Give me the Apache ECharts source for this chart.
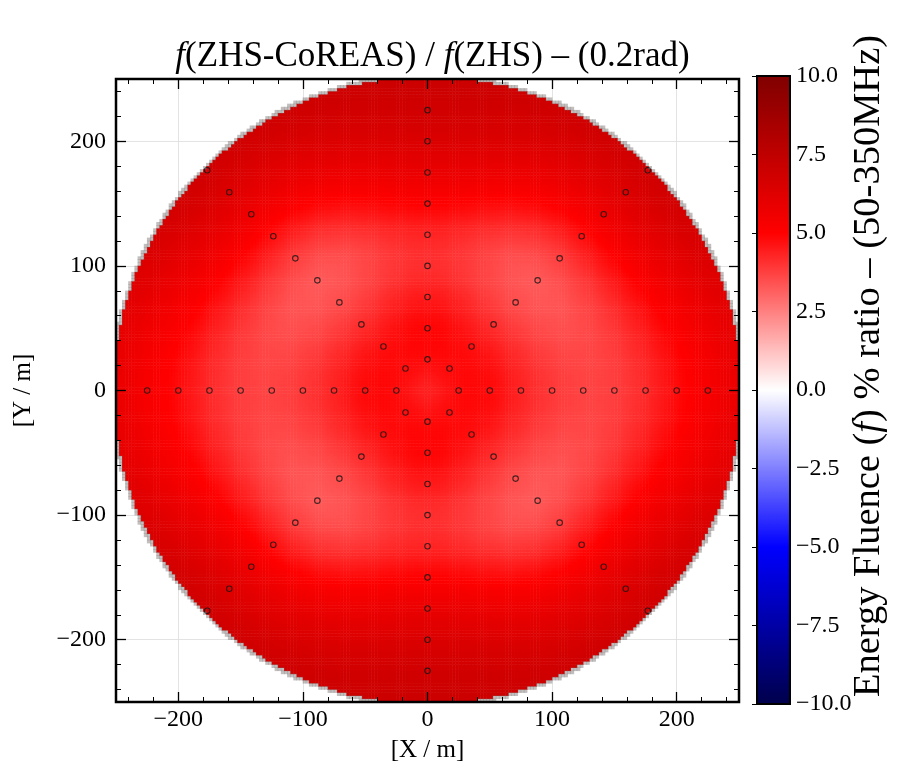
<!DOCTYPE html>
<html><head><meta charset="utf-8">
<script src="https://cdn.jsdelivr.net/npm/echarts@6/dist/echarts.min.js"></script>
<style>html,body{margin:0;padding:0;background:#fff}#c{width:918px;height:773px}</style>
</head><body><div id="c"></div>
<script>
// ---- data ----
// antenna positions along the 8 arms of the star pattern (m)
const AXIS_ARM_RADII = [25, 50, 75, 100, 125, 150, 175, 200, 225];
const DIAG_ARM_RADII = [25, 50, 75, 100, 125, 150, 175, 200, 225, 250];
const ARM_ANGLES_AXIS = [0, 90, 180, 270];
const ARM_ANGLES_DIAG = [45, 135, 225, 315];
// fluence ratio (%) read at radii along the arms
const PROFILE_RADII    = [0, 25, 50, 75, 100, 125, 150, 175, 200, 225, 250];
const PROFILE_ALONG_X  = [4.4, 4.8, 4.8, 4.3, 3.9, 3.7, 3.8, 4.2, 4.8, 5.3, 5.8];
const PROFILE_DIAGONAL = [4.4, 4.8, 4.7, 4.1, 3.5, 3.3, 3.8, 4.7, 5.6, 6.3, 6.8];
const PROFILE_ALONG_Y  = [4.4, 4.8, 4.9, 4.5, 4.1, 4.3, 5.0, 5.8, 6.4, 6.8, 7.0];
const DISK_RADIUS = 252;
// axes
const MAJOR_TICKS = [-200, -100, 0, 100, 200];
const MINOR_TICKS = [-240, -220, -180, -160, -140, -120, -80, -60, -40, -20, 20, 40, 60, 80, 120, 140, 160, 180, 220, 240];
const CBAR_MIN = -10, CBAR_MAX = 10, CBAR_INTERVAL = 2.5;
const SEISMIC = ['#00004c', '#0000ff', '#ffffff', '#ff0000', '#800000'];

// ---- build ----
const FONT = 'Liberation Serif';
const N = 200, CELL = 500 / N;
const cats = Array.from({length: N}, (_, i) => String(i));
function profileAt(arr, r) {
  const step = PROFILE_RADII[1] - PROFILE_RADII[0];
  const n = arr.length;
  const f = r / step; const i = Math.floor(f);
  if (i >= n - 1) return arr[n - 1];
  const t = f - i;
  const p0 = i - 1 < 0 ? arr[1] : arr[i - 1];
  const p1 = arr[i], p2 = arr[i + 1];
  const p3 = i + 2 > n - 1 ? arr[n - 1] : arr[i + 2];
  return 0.5 * (2 * p1 + (-p0 + p2) * t + (2 * p0 - 5 * p1 + 4 * p2 - p3) * t * t + (-p0 + 3 * p1 - 3 * p2 + p3) * t * t * t);
}
function fieldAt(x, y) {
  const r = Math.hypot(x, y);
  const th = Math.atan2(Math.abs(y), Math.abs(x)) * 180 / Math.PI;
  const vx = profileAt(PROFILE_ALONG_X, r), vd = profileAt(PROFILE_DIAGONAL, r), vy = profileAt(PROFILE_ALONG_Y, r);
  if (th <= 45) { const s = (1 - Math.cos(Math.PI * th / 45)) / 2; return vx + (vd - vx) * s; }
  const s = (1 - Math.cos(Math.PI * (th - 45) / 45)) / 2; return vd + (vy - vd) * s;
}
const cells = [], rim = [];
for (let i = 0; i < N; i++) {
  for (let j = 0; j < N; j++) {
    const x = -250 + CELL * (i + 0.5), y = -250 + CELL * (j + 0.5);
    const r = Math.hypot(x, y);
    if (r <= DISK_RADIUS) cells.push([i, j, +fieldAt(x, y).toFixed(3)]);
    else if (r <= DISK_RADIUS + CELL) rim.push([i, j, 0]);
  }
}
const antennas = [];
ARM_ANGLES_AXIS.forEach(a => AXIS_ARM_RADII.forEach(r => antennas.push([r * Math.cos(a * Math.PI / 180), r * Math.sin(a * Math.PI / 180)])));
ARM_ANGLES_DIAG.forEach(a => DIAG_ARM_RADII.forEach(r => antennas.push([r * Math.cos(a * Math.PI / 180), r * Math.sin(a * Math.PI / 180)])));

const minus = v => (v < 0 ? '\u2212' : '') + Math.abs(v);
const tickFont = {fontFamily: FONT, fontSize: 24, color: '#000'};
const italic = {fontFamily: FONT, fontStyle: 'italic'};

function valAxis(extra) {
  return Object.assign({type: 'value', gridIndex: 0, min: -250, max: 250, z: 5,
    axisLine: {show: false, onZero: false}, splitLine: {show: false}, axisLabel: {show: false},
    axisTick: {show: false}}, extra);
}
const majorTick = {show: true, inside: true, length: 10, customValues: MAJOR_TICKS, lineStyle: {color: '#000', width: 1.3}};
const minorTick = {show: true, inside: true, length: 5, customValues: MINOR_TICKS, lineStyle: {color: '#000', width: 1}};

const option = {
  animation: false,
  backgroundColor: '#fff',
  title: {
    text: '{i|f}(ZHS-CoREAS) / {i|f}(ZHS) \u2013 (0.2rad)',
    left: 427.5, top: 34, textAlign: 'center',
    textStyle: {fontFamily: FONT, fontSize: 35, fontWeight: 'normal', color: '#000',
      rich: {i: Object.assign({fontSize: 35}, italic)}}
  },
  graphic: [{
    type: 'text', x: 869, y: 366, rotation: Math.PI / 2, z: 20,
    style: {text: 'Energy Fluence ({i|f}) % ratio \u2013 (50-350MHz)', fontFamily: FONT, fontSize: 38.5, fill: '#000',
      align: 'center', verticalAlign: 'middle',
      rich: {i: {fontFamily: FONT, fontStyle: 'italic', fontSize: 38.5, fill: '#000'}}}
  }],
  grid: [
    {left: 116, top: 79, width: 623, height: 623, show: true, borderColor: '#000', borderWidth: 2.5, backgroundColor: 'transparent', z: 10, outerBoundsMode: 'none'},
    {left: 757, top: 76, width: 33, height: 628, show: true, borderColor: '#000', borderWidth: 2, backgroundColor: 'transparent', z: 10, outerBoundsMode: 'none'}
  ],
  xAxis: [
    {type: 'category', gridIndex: 0, data: cats, show: false},
    valAxis({position: 'bottom', axisTick: majorTick,
      axisLabel: {show: true, customValues: MAJOR_TICKS, formatter: minus, margin: 6, ...tickFont},
      name: '[X / m]', nameLocation: 'middle', nameGap: 36, nameTextStyle: {fontFamily: FONT, fontSize: 25, color: '#000'}}),
    valAxis({position: 'bottom', axisTick: minorTick}),
    valAxis({position: 'top', axisTick: majorTick}),
    valAxis({position: 'top', axisTick: minorTick}),
    valAxis({position: 'bottom', z: 0, axisTick: {show: false, customValues: MAJOR_TICKS},
      splitLine: {show: true, lineStyle: {color: '#dcdcdc', width: 0.8}}}),
    {type: 'value', gridIndex: 1, min: 0, max: 1, show: false}
  ],
  yAxis: [
    {type: 'category', gridIndex: 0, data: cats, show: false},
    valAxis({position: 'left', axisTick: majorTick,
      axisLabel: {show: true, customValues: MAJOR_TICKS, formatter: minus, margin: 10, ...tickFont},
      name: '[Y / m]', nameLocation: 'middle', nameGap: 80, nameRotate: 90, nameTextStyle: {fontFamily: FONT, fontSize: 25, color: '#000'}}),
    valAxis({position: 'left', axisTick: minorTick}),
    valAxis({position: 'right', axisTick: majorTick}),
    valAxis({position: 'right', axisTick: minorTick}),
    valAxis({position: 'left', z: 0, axisTick: {show: false, customValues: MAJOR_TICKS},
      splitLine: {show: true, lineStyle: {color: '#dcdcdc', width: 0.8}}}),
    {type: 'value', gridIndex: 1, min: CBAR_MIN, max: CBAR_MAX, interval: CBAR_INTERVAL, position: 'right', z: 11,
      axisLine: {show: false}, splitLine: {show: false},
      axisTick: {show: true, inside: true, length: 5, lineStyle: {color: '#000', width: 1}},
      axisLabel: {margin: 6, formatter: v => (v < 0 ? '\u2212' : '') + Math.abs(v).toFixed(1), ...tickFont}}
  ],
  visualMap: {
    type: 'continuous', min: CBAR_MIN, max: CBAR_MAX, seriesIndex: 0, orient: 'vertical',
    left: 757, top: 76, itemWidth: 33, itemHeight: 628, padding: 0, calculable: false,
    hoverLink: false, text: null, inRange: {color: SEISMIC}, z: 4
  },
  series: [
    {type: 'heatmap', xAxisIndex: 0, yAxisIndex: 0, data: cells, progressive: 0, z: 1,
      emphasis: {disabled: true}, itemStyle: {borderWidth: 0}},
    {type: 'heatmap', xAxisIndex: 0, yAxisIndex: 0, data: rim, progressive: 0, z: 1,
      emphasis: {disabled: true}, itemStyle: {color: 'rgba(120,110,110,0.45)', borderWidth: 0}},
    {type: 'scatter', xAxisIndex: 1, yAxisIndex: 1, data: antennas, symbol: 'circle', symbolSize: 5.5, z: 3,
      itemStyle: {color: 'rgba(0,0,0,0)', borderColor: '#151515', borderWidth: 1.1}, emphasis: {disabled: true}}
  ]
};
const chart = echarts.init(document.getElementById('c'), null, {renderer: 'canvas'});
chart.setOption(option);
</script></body></html>
